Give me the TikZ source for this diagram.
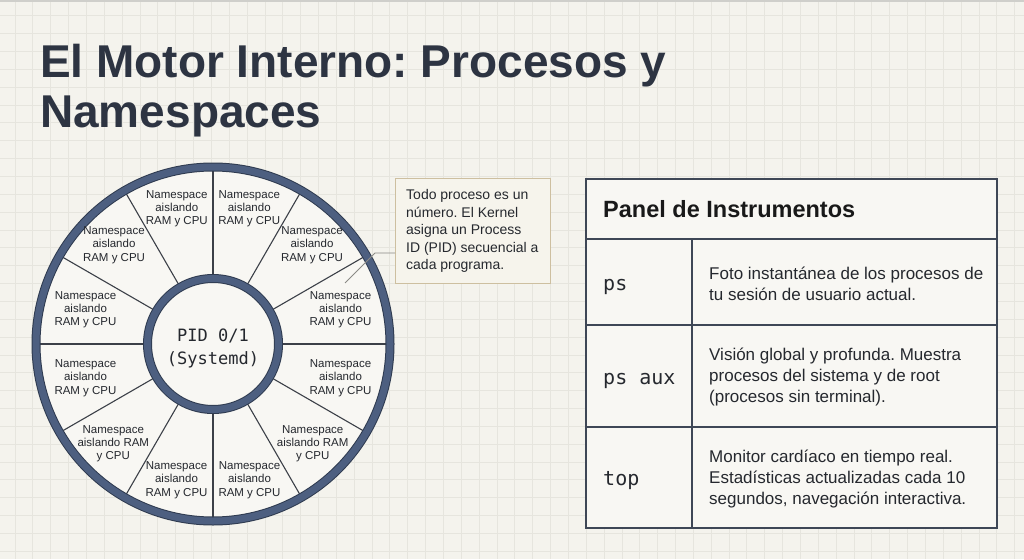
\documentclass[tikz,border=0pt]{standalone}
\usepackage{fontspec}
\setmainfont{Liberation Sans}
\setmonofont{DejaVu Sans Mono}
\definecolor{bgc}{HTML}{F4F3ED}
\definecolor{gridc}{HTML}{E6E5DE}
\definecolor{topc}{HTML}{CFCFCB}
\definecolor{titlec}{HTML}{2D3442}
\definecolor{txtc}{HTML}{25282E}
\definecolor{ringc}{HTML}{4D5F80}
\definecolor{ringd}{HTML}{2F3B50}
\definecolor{spokec}{HTML}{3C4048}
\definecolor{wheelc}{HTML}{F8F7F3}
\definecolor{callfill}{HTML}{F6F4EC}
\definecolor{callline}{HTML}{CDBFA0}
\definecolor{connc}{HTML}{8A8A85}
\definecolor{tblc}{HTML}{3E4756}
\definecolor{tblfill}{HTML}{F8F7F3}
\frenchspacing
\begin{document}
\frenchspacing
\begin{tikzpicture}[x=1pt,y=-1pt,
  gridline/.style={draw=gridc,line width=0.8pt},
  titlefont/.style={font={\fontsize{46}{50}\selectfont\bfseries},text=titlec,inner sep=0pt},
  sector/.style={font={\fontsize{11.5}{13.3}\selectfont},text=txtc,align=center,inner sep=0pt},
  spoke/.style={draw=spokec,line width=1.1pt},
  ringout/.style={draw=ringd,line width=9pt},
  ringin/.style={draw=ringc,line width=7pt},
  callbox/.style={draw=callline,fill=callfill,line width=1.1pt,minimum width=155pt,minimum height=105pt,inner sep=0pt},
  calltext/.style={font={\fontsize{14}{17.5}\selectfont},text=txtc,align=left,inner sep=0pt},
  conn/.style={draw=connc,line width=0.9pt},
  tbl/.style={draw=tblc,line width=1.4pt},
  cmd/.style={font={\ttfamily\fontsize{20}{24}\selectfont},text=txtc,inner sep=0pt},
  desc/.style={font={\fontsize{17}{21.3}\selectfont},text=txtc,align=left,inner sep=0pt}
]
\useasboundingbox (0,0) rectangle (1024,559);
\fill[bgc] (0,0) rectangle (1024,559);
\foreach \i in {0,...,57} \draw[gridline] ({15+17.85*\i},0) -- ({15+17.85*\i},559);
\foreach \j in {0,...,31} \draw[gridline] (0,{15.75+17.85*\j}) -- (1024,{15.75+17.85*\j});
\draw[draw=topc,line width=2pt] (0,1) -- (1024,1);

% title
\node[titlefont,anchor=base west] (title1) at (40,78) {El Motor Interno: Procesos y};
\node[titlefont,anchor=base west] (title2) at (40,128) {Namespaces};

% wheel
\coordinate (wc) at (213,344);
\fill[wheelc] (wc) circle (177);
\foreach \a in {0,30,...,330}
  \draw[spoke] ({213+69*cos(\a)},{344-69*sin(\a)}) -- ({213+173*cos(\a)},{344-173*sin(\a)});
\draw[ringout] (wc) circle (177);
\draw[ringin] (wc) circle (177);
\fill[wheelc] (wc) circle (62);
\draw[ringout] (wc) circle (65.5);
\draw[ringin] (wc) circle (65.5);
\node[font={\ttfamily\fontsize{17}{23}\selectfont},text=txtc,align=center,inner sep=0pt] (hub) at (213,348) {PID 0/1\\(Systemd)};
\foreach \a/\r/\n in {15/132/s1,45/140/s2,75/140/s3,105/140/s4,135/140/s5,165/132/s6,195/132/s7,255/141/s9,285/141/s10,345/132/s12}
  \node[sector] (\n) at ({213+\r*cos(\a)},{344-\r*sin(\a)}) {Namespace\\aislando\\RAM y CPU};
\node[sector] (s8) at ({213+141*cos(225)},{344-141*sin(225)}) {Namespace\\aislando RAM\\y CPU};
\node[sector] (s11) at ({213+141*cos(315)},{344-141*sin(315)}) {Namespace\\aislando RAM\\y CPU};

% callout
\node[callbox,anchor=north west] (callout) at (395,178) {};
\node[calltext,anchor=west] (calltxt) at (406,231) {Todo proceso es un\\número. El Kernel\\asigna un Process\\ID (PID) secuencial a\\cada programa.};
\coordinate (cstart) at (395,253);
\coordinate (cbend) at (375,253);
\coordinate (ctip) at (345,283);
\draw[conn] (cstart) -- (cbend) -- (ctip);

% table
\fill[tblfill] (586,179) rectangle (997,528);
\draw[tbl] (586,179) rectangle (997,528);
\draw[tbl] (586,239) -- (997,239);
\draw[tbl] (586,325) -- (997,325);
\draw[tbl] (586,427) -- (997,427);
\draw[tbl] (692,239) -- (692,528);
\node[font={\fontsize{23.5}{28}\selectfont\bfseries},text=black!90,anchor=base west,inner sep=0pt] (panel) at (603,217) {Panel de Instrumentos};
\node[cmd,anchor=base west] (c1) at (603,290) {ps};
\node[cmd,anchor=base west] (c2) at (603,384) {ps aux};
\node[cmd,anchor=base west] (c3) at (603,485) {top};
\node[desc,anchor=west] (d1) at (709,284) {Foto instantánea de los procesos de\\tu sesión de usuario actual.};
\node[desc,anchor=west] (d2) at (709,377) {Visión global y profunda. Muestra\\procesos del sistema y de root\\(procesos sin terminal).};
\node[desc,anchor=west] (d3) at (709,479) {Monitor cardíaco en tiempo real.\\Estadísticas actualizadas cada 10\\segundos, navegación interactiva.};
\end{tikzpicture}
\end{document}
